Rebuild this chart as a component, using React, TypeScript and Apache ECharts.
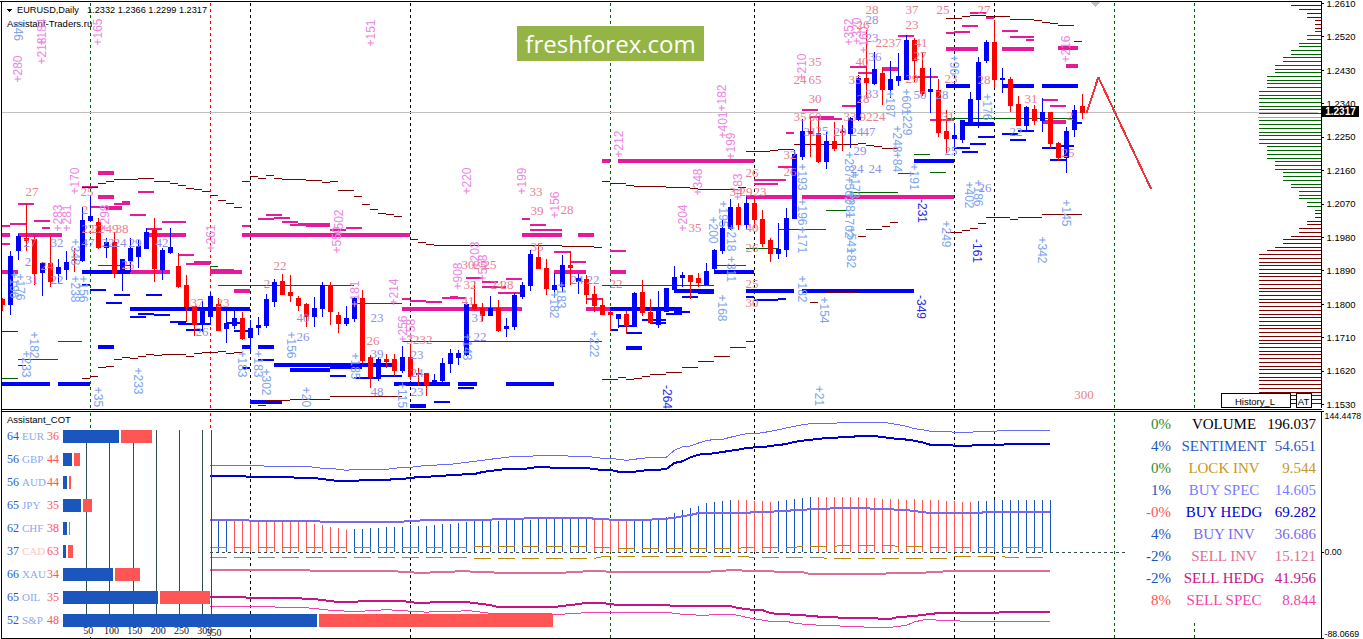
import React, { useEffect, useRef } from "react";
import * as echarts from "echarts";

// ---------- price data (prices in 1/10000) : open, close, low, high ----------
const candles: number[][] = [
[11811,11798,11781,11816],[11798,11928,11771,11943],[11943,11982,11919,11989],[11977,11970,11943,12072],[11973,11881,11851,11986],
[11884,11910,11823,11914],[11908,11860,11846,11982],[11881,11899,11857,11921],[11892,11913,11865,11943],[11919,11916,11887,11950],
[11917,12024,11913,12062],[12024,12037,12021,12091],[12020,11952,11948,12032],[11952,11966,11925,11977],[11966,11883,11871,11995],
[11884,11919,11835,11921],[11917,11950,11886,11978],[11928,11955,11897,11973],[11950,11993,11948,12006],[11997,11896,11860,12033],
[11892,11943,11865,11951],[11938,11953,11935,12006],[11901,11847,11843,11937],[11849,11793,11753,11878],[11793,11744,11715,11795],
[11751,11781,11726,11807],[11766,11820,11744,11833],[11798,11730,11728,11816],[11733,11748,11696,11780],[11742,11760,11733,11781],
[11762,11706,11703,11778],[11710,11735,11672,11757],[11736,11741,11717,11766],[11742,11811,11736,11826],[11808,11859,11793,11868],
[11862,11827,11825,11880],[11830,11823,11805,11877],[11814,11796,11780,11823],[11798,11766,11739,11802],[11766,11789,11739,11820],
[11789,11851,11766,11859],[11849,11780,11744,11859],[11768,11748,11722,11778],[11748,11762,11742,11796],[11760,11814,11751,11820],
[11814,11647,11641,11838],[11656,11605,11573,11663],[11600,11650,11593,11658],[11650,11645,11627,11665],[11650,11620,11605,11665],
[11620,11657,11614,11687],[11657,11605,11596,11693],[11614,11609,11578,11627],[11614,11584,11553,11615],[11587,11594,11578,11611],
[11594,11641,11590,11656],[11639,11668,11614,11678],[11656,11668,11636,11676],[11665,11798,11661,11804],[11798,11789,11781,11862],
[11789,11769,11755,11802],[11769,11789,11768,11822],[11787,11730,11724,11811],[11733,11739,11712,11762],[11739,11822,11730,11829],
[11820,11851,11813,11859],[11849,11934,11835,11946],[11926,11896,11895,11961],[11896,11841,11825,11921],[11838,11849,11816,11885],
[11847,11903,11833,11932],[11905,11898,11850,11943],[11862,11868,11826,11880],[11865,11825,11800,11878],[11827,11796,11778,11849],
[11796,11771,11771,11816],[11777,11771,11728,11780],[11762,11771,11736,11773],[11771,11741,11719,11780],[11739,11828,11739,11832],
[11832,11777,11768,11865],[11778,11751,11748,11813],[11746,11781,11736,11835],[11781,11841,11779,11843],[11840,11872,11829,11903],
[11871,11876,11847,11887],[11876,11862,11813,11876],[11870,11858,11847,11883],[11854,11889,11854,11910],[11895,11943,11890,11948],
[11943,12004,11935,12027],[12004,12060,12000,12082],[12060,12013,12000,12072],[12013,12070,12002,12089],[12070,12027,12004,12085],
[12029,11964,11955,12054],[11970,11935,11914,11977],[11935,11948,11921,12018],[11948,12031,11928,12058],[12031,12202,12029,12215],
[12197,12266,12188,12298],[12264,12260,12197,12305],[12260,12185,12179,12296],[12184,12239,12164,12264],[12239,12218,12213,12291],
[12266,12262,12213,12282],[12260,12300,12220,12305],[12296,12408,12294,12417],[12408,12396,12354,12538],[12393,12431,12390,12480],
[12422,12379,12336,12435],[12379,12404,12354,12455],[12401,12414,12386,12475],[12405,12509,12404,12525],[12511,12455,12399,12516],
[12435,12366,12359,12480],[12372,12379,12314,12435],[12374,12262,12251,12406],[12266,12245,12206,12323],[12246,12253,12211,12287],
[12242,12293,12235,12296],[12287,12352,12285,12372],[12352,12451,12275,12466],[12455,12505,12449,12511],[12505,12406,12381,12565],
[12404,12408,12369,12435],[12405,12336,12318,12412],[12338,12282,12280,12360],[12282,12330,12264,12334],[12325,12294,12282,12336],
[12294,12317,12264,12354],[12317,12233,12220,12317],[12233,12194,12185,12237],[12194,12266,12154,12278],[12271,12320,12251,12336],
[12332,12317,12299,12366],
];
const lastClose = 12317;
const priceTicks = [12610,12520,12430,12340,12250,12160,12070,11980,11890,11800,11710,11620,11530];
const forecast = [[135.55,12315],[137,12411],[143.6,12110]];
// bar-index positions of period separators, with their kind
const separators: [number, string][] = [[11,"g"],[26,"r"],[31,"k"],[51,"k"],[76,"g"],[94,"k"],[119,"k"],[124,"k"],[139,"g"],[149,"g"]];

// level segments: from bar, to bar, price (1/10000)
const magentaThick = [[0,1,11986],[2,7.5,11986],[18,23,11986],[30,51,11986],[0,2,11887],[16,21,11887],[26,30,11887],[12,14,12154],[12,14,12087],[29,31,11835],[50,65,11787],[65,70,11986],[72,74,11986],[69,73,11887],[76,78,11887],[73,76,11787],[75,76,12186],[77,94,12186],[93,99,12087],[100,119,12087],[118,122,12487],[125,129,12487],[132,134.5,12490],[133,134.5,12441],[130,133,12291],[110,112,12433]];
const magentaThin = [[2,4,12070],[10,12,12116],[14,16,12070],[15,16,12076],[17,19,12103],[11,15,12062],[13,15,12056],[16,18,12040],[4,6,12024],[20,23,12020],[1,3,12016],[0,1,12009],[5,6,12006],[18,20,12002],[0,1,11961],[22,24,11932],[24,26,11914],[23,26,11909],[26,29,11892],[33,35,12040],[32,34,12029],[34,36,12031],[35,37,12021],[37,41,12016],[38,41,12010],[30,31,12011],[36,38,12013],[43,45,12005],[41,43,12000],[50,51,11814],[51,53,11808],[53,55,11806],[55,58,11817],[56,57,11820],[58,60,11870],[60,62,11860],[60,63,11846],[62,65,11830],[63,65,11868],[65,66,12029],[66,68,12013],[66,70,12000],[69,71,11940],[71,73,11913],[73,75,11814],[76,78,11944],[94,98,12134],[94,97,12123],[97,99,12170],[98,99,12262],[100,102,12323],[101,104,12305],[102,105,12298],[105,107,12334],[106,108,12439],[107,109,12423],[112,114,12523],[114,117,12412],[116,119,12296],[118,119,12530],[119,121,12532],[120,122,12550],[121,123,12583],[123,124,12571],[125,127,12536],[126,129,12520],[128,129,12511],[130,132,12350],[131,133,12334]];
const blueThick = [[10,16,11887],[16,31,11787],[12,14,11684],[30,31,11684],[32,34,11684],[0,6,11584],[7,11,11584],[31,35,11537],[34,49,11636],[36,41,11623],[49,56,11585],[57,59.3,11585],[63,69,11585],[51,53,11526],[76,85,11787],[78,80,11683],[84,89,11835],[89,94,11886],[93,99,11835],[100,114,11835],[114,119,12185],[118,121,12387],[125,129,12387],[130,134.5,12387],[120,124,12285]];
const blueThin = [[10,11,11852],[11,13,11838],[14,16,11825],[18,20,11825],[13,15,11804],[17,19,11773],[19,21,11771],[16,18,11765],[21,23,11753],[22,26,11746],[23,25,11730],[28,30,11748],[29,31,11728],[30,31,11629],[32,34,11650],[41,43,11606],[41,45,11627],[44,47,11601],[47,50,11605],[57,59,11574],[54,56,11537],[77,79,11742],[78,80,11723],[76,77,11730],[80,83,11758],[81,83,11750],[83,85,11773],[84,86,11778],[87,89,11829],[85,87,11820],[93,94,11820],[94,97,11811],[97,98,11814],[119,121,12220],[121,123,12231],[120,122,12210],[122,124,12250],[125,127,12258],[127,129,12266],[126,128,12242],[130,132,12220],[132,134,12227],[131,133,12188],[134,135,12288]];
const greenLevels = [[12,16,11903],[10,11,11851],[27,44,11851],[44,50,11802],[50,75,11700],[75,89,11851],[2,7,11652],[7,10,11700],[0,2,11600],[26,27,11902],[89,93,11903],[93,97,11950],[97,103,12002],[103,106,12051],[106,112,12101],[112,114,12152],[114,116,12202],[116,118,12153],[118,134,12300]];
const darkRedLevels = [[10,12,12115],[12,13,12125],[13,14,12130],[14,17,12136],[17,19,12139],[19,21,12131],[21,22,12125],[22,23,12120],[23,24,12112],[24,25,12109],[25,26,12104],[26,27,12093],[27,28,12080],[28,29,12070],[29,30,12061],[30,31,12131],[31,32,12144],[32,33,12139],[33,34,12147],[34,35,12139],[35,38,12136],[38,40,12133],[40,41,12128],[41,42,12131],[42,44,12106],[44,45,12090],[45,46,12067],[46,47,12055],[47,48,12045],[48,49,12040],[49,50,12035],[51,52,11975],[52,53,11965],[53,54,11961],[54,67,11959],[67,70,11958],[70,71,11956],[71,74,11955],[74,75,11953],[75,76,12131],[76,78,12125],[78,79,12120],[79,83,12117],[83,86,12114],[86,87,12110],[87,92,12109],[92,93,12114],[93,95,12212],[95,96,12210],[96,97,12213],[97,99,12216],[99,105,12230],[105,107,12229],[107,108,12233],[108,109,12226],[109,110,12224],[110,112,12220],[107,108,11983],[108,110,12001],[110,111,12010],[111,112,12020],[118,120,11993],[120,121,11999],[121,122,12004],[122,123,12018],[123,126,12034],[126,127,12028],[127,130,12034],[130,135,12040],[118,120,12570],[120,121,12574],[121,123,12577],[123,126,12575],[126,129,12567],[129,130,12564],[130,131,12559],[131,132,12555],[132,134,12551],[134,135,12508],[0,2,11727],[2,3,11634],[10,11,11600],[11,12,11606],[12,13,11629],[13,14,11633],[14,15,11651],[15,16,11656],[16,17,11654],[17,18,11660],[18,19,11665],[19,20,11662],[20,23,11665],[23,24,11660],[24,25,11666],[25,27,11670],[27,28,11671],[28,29,11666],[29,30,11670],[31,32,11537],[32,33,11526],[33,36,11539],[36,37,11544],[37,39,11542],[39,41,11544],[41,50,11550],[75,77,11598],[77,78,11601],[78,79,11598],[79,80,11600],[80,81,11606],[81,83,11609],[83,85,11616],[85,87,11628],[87,89,11644],[89,91,11660],[91,93,11682],[93,94,11698],[101,102,11805],[103,107,11831]];

// volume profile on the right: [bar length in steps, number of rows], from 1.2603 down in steps of 0.0010
const profileRuns = [[4,1],[3,1],[2,2],[1,3],[1,1],[2,2],[3,2],[4,2],[5,2],[6,3],[7,4],[8,15],[7,4],[6,3],[5,3],[4,2],[3,3],[2,2],[1,1],[1,2],[2,2],[3,2],[4,1],[5,2],[6,1],[7,1],[8,41]];

// ---------- COT pane, runs of [value, bars] starting at bar 26 ----------
const volumeRuns = [[88.8,7],[87.8,6],[86.8,1],[85.7,2],[84.7,1],[83.7,1],[84.7,5],[85.7,1],[86.8,2],[87.8,1],[88.8,2],[89.8,2],[90.9,1],[91.9,1],[92.9,1],[93.9,1],[95,1],[96,1],[97,1],[98,3],[99,4],[98,3],[97,1],[96,2],[95,1],[93.9,1],[95,1],[96,1],[97,3],[104.2,1],[107.6,1],[108.6,1],[111.6,1],[114,1],[115.4,2],[117.5,1],[119.5,1],[121.2,2],[122.2,1],[123.6,1],[125.3,1],[127,1],[128.8,1],[130.4,1],[131.4,1],[131.8,3],[132.9,6],[131.8,1],[130.4,1],[128.8,1],[126.3,1],[125.3,1],[123.6,3],[122.6,3],[123.6,3],[124.7,7]];
const sentimentRuns = [[77.8,5],[76.8,6],[75.8,3],[74.8,1],[73.7,1],[72.7,3],[73.7,4],[74.8,2],[75.8,1],[76.8,2],[77.8,2],[78.9,2],[79.9,2],[81.9,1],[83,1],[84,1],[85,3],[86,1],[87.1,2],[86,5],[85,1],[84,2],[82.3,3],[83.3,1],[84.3,2],[85,1],[91.2,1],[92.9,1],[97,1],[99.7,1],[100.4,1],[101.1,1],[102.4,1],[103.8,1],[104.8,1],[106.5,1],[107.2,2],[108.6,1],[109.6,1],[110.6,1],[112.7,1],[114,1],[115,1],[115.7,1],[116.8,2],[117.8,2],[118.8,3],[117.8,1],[116.8,1],[115.7,1],[115.2,1],[114,1],[112.4,1],[109.9,3],[108.9,3],[109.9,4],[110.9,6]];
const buyInvRuns = [[33.1,5],[32.1,9],[31,11],[32.1,2],[33.1,9],[34.1,4],[35.1,8],[34.1,2],[33.1,6],[34.1,2],[35.1,1],[36.6,1],[37.9,1],[39.9,7],[41,3],[42,2],[43,2],[44,3],[45.1,5],[44,3],[43,2],[42,1],[41,1],[39.9,7],[41,9]];
const sellInvRuns = [[-18.4,13],[-19.5,11],[-20.5,2],[-21.5,2],[-20.5,3],[-19.5,2],[-20.5,3],[-21.5,9],[-20.5,2],[-19.5,3],[-20.5,13],[-19.5,2],[-18.4,2],[-19.5,4],[-20.5,4],[-22.5,10],[-21.5,5],[-20.5,2],[-19.5,14]];
const sellHedgRuns = [[-46.1,5],[-47.1,7],[-48.1,2],[-49.2,1],[-50.2,1],[-51.2,3],[-50.2,6],[-51.2,1],[-52.2,2],[-51.2,5],[-52.2,1],[-53.3,1],[-54.3,1],[-56.3,8],[-55.3,1],[-54.3,1],[-53.3,1],[-52.2,3],[-53.3,1],[-54.3,7],[-55.3,8],[-57.4,1],[-58.4,1],[-59.4,2],[-62.5,1],[-63.5,2],[-64.5,2],[-65.6,1],[-66.1,1],[-66.6,2],[-67.6,5],[-68.6,2],[-66.6,1],[-66.1,1],[-65.6,1],[-64.5,1],[-63.5,1],[-62.5,8],[-61.5,7]];
const sellSpecRuns = [[-55.6,7],[-56.3,2],[-57.1,4],[-57.9,1],[-58.7,1],[-59.7,2],[-60.7,3],[-59.7,2],[-58.7,1],[-59.7,2],[-60.7,2],[-61.8,1],[-60.7,4],[-59.7,1],[-60.7,1],[-61.8,1],[-62.8,8],[-63.8,2],[-62.8,2],[-61.8,11],[-62.8,1],[-63.8,2],[-64.8,2],[-63.8,3],[-64.8,1],[-66.9,1],[-68.3,1],[-69.7,1],[-71,3],[-72.7,1],[-73.8,2],[-75.1,3],[-76.1,3],[-77.1,4],[-76.1,1],[-75.1,1],[-71.7,1],[-69.7,1],[-68.6,1],[-70,3],[-71,12]];
const lockUpperRuns = [[4.8,33],[5.8,15],[4.8,3],[3.8,16],[4.8,7],[5.8,5],[6.8,7],[5.8,4],[4.5,8],[4.8,8]];
const lockLowerRuns = [[-5.4,33],[-6.4,16],[-4.9,19],[-5.6,9],[-6.4,16],[-4.9,7],[-5.6,6]];
// histogram, runs from bar 27
const histogramRuns = [[32,2],[31.4,3],[30.7,6],[30.4,1],[28.7,1],[27.7,1],[25.9,1],[24.6,1],[22.5,1],[23.6,2],[24.6,2],[25.6,3],[27.7,1],[26.6,2],[27.7,1],[28.7,2],[29.7,1],[30.7,1],[31.8,2],[32.8,1],[31.8,1],[32.8,4],[33.8,7],[32.8,2],[32.3,2],[32.5,1],[31.4,2],[33.1,1],[33.8,1],[35.5,1],[39.9,1],[43.3,1],[45.1,1],[46.8,1],[50.2,1],[51.2,1],[52.2,1],[53.3,3],[52.2,2],[51.2,1],[52.2,1],[53.3,1],[54.3,1],[55.3,1],[56.3,7],[55.3,2],[54.3,3],[53.3,1],[54.3,1],[53.3,3],[52.2,2],[51.2,2],[52.2,2],[53.3,8]];
const histogramFallingBars = [[29,43],[74,78],[92,96],[102,121]];
const zeroLine = [[26,0],[140.6,0]];

// COT table
const cotNames = ["EUR","GBP","AUD","JPY","CHF","CAD","XAU","OIL","S&P"];
const cotLongPct = [64,56,56,65,62,37,66,65,52];
const cotShortPct = [36,44,44,35,38,63,34,35,48];
const cotLongSize = [120,19,8,39,8,6,108,204,545];
const cotShortSize = [67,13,5,20,3,11,54,108,503];
const cotAxisTicks = [50,100,150,200,250,300];
const cotEdgeTick = 318.5;
const cotEdgeLabel = "350";

// summary table
const summaryChange = ["0%","4%","0%","1%","-0%","4%","-2%","-2%","8%"];
const summaryNames = ["VOLUME","SENTIMENT","LOCK INV","BUY SPEC","BUY HEDG","BUY INV","SELL INV","SELL HEDG","SELL SPEC"];
const summaryValues = ["196.037","54.651","9.544","14.605","69.282","36.686","15.121","41.956","8.844"];

// chart annotations (text, left, top)
const pinkUpLabels: [string,number,number][] = [["+280",18,69],["+218",42,51],["+184",42,32],["+165",98,32],["+170",75,181],["+283",58,218],["+281",67,218],["+298",105,218],["+261",211,238],["+502",339,223],["+550",337,240],["+151",371,33],["+220",467,181],["+199",522,181],["+156",555,205],["+212",619,144],["+182",722,98],["+401",723,125],["+199",731,146],["+348",698,182],["+204",683,218],["+183",738,187],["+181",355,294],["+256",403,329],["+58",411,329],["+214",394,292],["+908",458,276],["+203",475,255],["+568",483,268],["+352",849,32],["+320",857,31],["+210",802,67],["+216",1066,49],["+160",864,40]];
const blueDownLabels: [string,number,number][] = [["946",18,31],["+182",34,345],["+233",26,364],["+233",138,381],["+35",98,397],["+183",242,364],["+183",258,364],["+302",266,382],["+156",291,345],["+20",306,397],["+238",75,289],["+348",75,252],["+156",83,289],["+176",20,287],["+196",14,285],["+185",355,366],["+115",402,395],["+143",467,347],["+182",554,305],["+183",561,295],["+222",594,344],["+249",946,234],["+402",969,195],["+186",978,193],["+191",914,177],["+196",802,212],["+171",802,240],["+193",802,177],["+182",802,289],["+154",824,310],["+21",819,396],["+218",731,238],["+195",723,214],["+311",731,269],["+168",722,308],["+200",713,230],["+287",849,165],["+173",855,185],["+562",849,190],["+981",850,205],["+702",849,225],["+541",851,240],["+82",851,258],["+187",890,104],["+601",906,102],["+229",907,122],["+248",897,139],["+84",897,162],["+176",987,107],["+96",954,65],["+145",1066,213],["+342",1042,250]];
const darkDownLabels: [string,number,number][] = [["-264",667,397],["-349",921,307],["-231",922,211],["-161",977,251]];
const redCounts: [string,number,number][] = [["27",32,191],["25",87,191],["2",85,209],["22",88,228],["22",98,228],["49",112,228],["38",122,228],["24",47,265],["25",128,264],["37",197,302],["23",223,302],["22",280,265],["2",267,283],["26",373,340],["32",413,339],["32",426,339],["30",468,264],["25",480,264],["25",490,264],["32",470,284],["24",497,284],["28",507,284],["39",537,210],["28",567,209],["33",536,191],["35",537,246],["22",616,283],["41",468,300],["35",695,227],["40",752,227],["26",752,247],["26",752,172],["25",752,283],["30",752,302],["34",736,191],["29",746,191],["23",760,191],["26",790,171],["32",790,154],["28",872,9],["26",863,24],["37",912,9],["23",912,24],["25",943,9],["27",984,9],["22",882,42],["37",895,42],["41",921,42],["27",920,55],["35",815,61],["24",800,79],["65",815,79],["40",862,61],["35",855,79],["30",815,98],["35",800,116],["60",815,116],["33",850,116],["92",866,116],["24",879,116],["28",863,98],["29",912,78],["28",984,79],["23",951,78],["31",1031,98],["31",948,116],["25",1068,152],["2",1070,115],["300",1084,394]];
const purpleCounts: [string,number,number][] = [["27",30,242],["32",57,242],["2",28,261],["31",32,279],["22",57,279],["47",88,242],["22",108,242],["24",120,242],["29",135,242],["42",162,242],["26",202,331],["40",303,317],["26",303,336],["23",377,317],["39",377,353],["31",478,317],["22",480,336],["24",417,372],["23",417,391],["23",417,354],["48",377,391],["24",577,279],["22",593,279],["28",872,19],["23",872,37],["36",875,56],["33",872,93],["25",822,130],["29",840,131],["31",810,131],["50",920,94],["28",942,94],["25",951,150],["22",1016,131],["24",857,131],["47",869,131],["29",860,150],["24",857,168],["24",875,168],["26",985,187]];

const FONT_SANS = '"Liberation Sans", Arial, sans-serif';
const FONT_SERIF = '"Liberation Serif", "Times New Roman", serif';
const BARS = 165;
const BLUE = "#0000ff", RED = "#ff0000", MAGENTA = "#e6199a", DARKRED = "#7a0000", GREEN = "#006400", SLATE = "#2f4f4f";
const COT_BLUE = "#1a56bd", COT_RED = "#ff5555";
const SEP_COLORS: any = { g: "#006400", r: "#ff0000", k: "#000000" };

const expand = (runs: number[][]) => {
  const out: number[] = [];
  runs.forEach(([v, n]) => { for (let k = 0; k < n; k++) out.push(v); });
  return out;
};
const fromBar = (start: number, values: number[]) => values.map((v, k) => [start + k, v]);

function segmentSeries(name: string, rows: number[][], color: string, width: number, z: number) {
  return {
    name, type: "custom", xAxisIndex: 1, yAxisIndex: 0, z, clip: true, silent: true,
    encode: { x: [0, 1], y: 2 },
    data: rows.map(([a, b, p]) => [a, b, p / 10000]),
    renderItem: (_p: any, api: any) => {
      const s = api.coord([api.value(0), api.value(2)]);
      const e = api.coord([api.value(1), api.value(2)]);
      return { type: "line", shape: { x1: s[0], y1: s[1], x2: e[0], y2: e[1] }, style: { stroke: color, lineWidth: width, fill: null } };
    },
  };
}

function paneLine(name: string, runs: number[][], color: string, width: number, dash?: any) {
  return {
    name, type: "line", xAxisIndex: 2, yAxisIndex: 1, z: 2, symbol: "none", silent: true,
    data: fromBar(26, expand(runs)),
    lineStyle: { color, width, type: dash || "solid" },
  };
}

function sepLines() {
  return {
    symbol: "none", silent: true, z: 0, precision: 4,
    label: { show: false },
    data: separators.map(([x, c]) => ({ xAxis: x, lineStyle: { color: SEP_COLORS[c], type: [3, 3], width: 1 } })),
  };
}

function buildOption() {
  const txt = (t: string, x: number, y: number, fill: string, font: string, extra: any = {}) => ({
    type: "text", x, y, z: 30, silent: true, rotation: extra.rotation || 0,
    style: { text: t, fill, font, align: extra.align || "center", verticalAlign: "middle" },
  });
  const seg = (x1: number, y1: number, x2: number, y2: number, stroke = "#000", w = 1) => ({
    type: "line", z: 40, silent: true, shape: { x1, y1, x2, y2 }, style: { stroke, lineWidth: w },
  });

  const summaryChangeColors = ["#2e8b2e","#1a56bd","#2e8b2e","#1a56bd","#ff5555","#1a56bd","#1a56bd","#1a56bd","#ff5555"];
  const summaryColors = ["#000000","#2a5cc8","#c8961e","#7b7bff","#0000cd","#7b68ee","#db7093","#c71585","#ee44aa"];
  const summaryY = [423.7,446,468,490,512,534,556,578,600];
  const cotY = [436.3,459.3,482.3,505.3,528.3,551.3,574.3,597.3,620.3];
  const cotNameColor = cotNames.map((n) => (n === "CAD" ? "#ffc4c4" : "#8ea8f0"));

  const elements: any[] = [
    { type: "rect", z: 1, silent: true, shape: { x: 3, y: 429, width: 208.5, height: 208 }, style: { fill: "#fff" } },
    { type: "rect", z: 1, silent: true, shape: { x: 1140, y: 412, width: 180, height: 209 }, style: { fill: "#fff" } },
    { type: "rect", z: 39, silent: true, shape: { x: 0, y: 0, width: 1.5, height: 639 }, style: { fill: "#fff" } },
    seg(0, 1.5, 1322, 1.5), seg(1.5, 1, 1.5, 639), seg(1.5, 409, 1322, 409), seg(1.5, 411, 1322, 411), seg(1.5, 638, 1322, 638),
    { type: "polygon", z: 40, silent: true, shape: { points: [[6, 9], [12, 9], [9, 12]] }, style: { fill: "#000" } },
    { type: "polygon", z: 30, silent: true, shape: { points: [[1091, 2], [1100, 2], [1095.5, 7]] }, style: { fill: "#c0c0c0" } },
    txt("EURUSD,Daily", 17, 10, "#000", `9.2px ${FONT_SANS}`, { align: "left" }),
    txt("1.2332 1.2366 1.2299 1.2317", 87, 10, "#000", `9.2px ${FONT_SANS}`, { align: "left" }),
    txt("Assistant-Traders.ru", 7, 23, "#000", `9.5px ${FONT_SANS}`, { align: "left" }),
    txt("Assistant_COT", 7, 419.5, "#000", `9.5px ${FONT_SANS}`, { align: "left" }),
    { type: "rect", z: 30, silent: true, shape: { x: 517, y: 26, width: 187, height: 35 }, style: { fill: "#94b545" } },
    txt("freshforex.com", 610.5, 43.5, "#ffffff", `24px "Open Sans", ${FONT_SANS}`),
    { type: "rect", z: 30, silent: true, shape: { x: 1322, y: 106, width: 37, height: 11 }, style: { fill: "#000" } },
    txt("1.2317", 1340.5, 111.5, "#fff", `bold 10px ${FONT_SANS}`),
    { type: "rect", z: 30, silent: true, shape: { x: 1221.5, y: 393.5, width: 69, height: 14 }, style: { fill: "#fff", stroke: "#000", lineWidth: 1 } },
    txt("History_L", 1255, 401, "#000", `9.5px ${FONT_SANS}`),
    { type: "rect", z: 30, silent: true, shape: { x: 1296, y: 393.5, width: 15, height: 14 }, style: { fill: "#fff", stroke: "#000", lineWidth: 1 } },
    txt("AT", 1303.5, 401, "#000", `9.5px ${FONT_SANS}`),
    txt(cotEdgeLabel, 214, 632, "#111", `10px ${FONT_SERIF}`),
  ];

  pinkUpLabels.forEach(([t, x, y]) => elements.push(txt(t, x, y, "#ea86e2", `12px ${FONT_SANS}`, { rotation: Math.PI / 2 })));
  blueDownLabels.forEach(([t, x, y]) => elements.push(txt(t, x, y, "#7da5ec", `12px ${FONT_SANS}`, { rotation: -Math.PI / 2 })));
  darkDownLabels.forEach(([t, x, y]) => elements.push(txt(t, x, y, "#2a2ae6", `12px ${FONT_SANS}`, { rotation: -Math.PI / 2 })));
  redCounts.forEach(([t, x, y]) => elements.push(txt(t, x, y, "#e9808f", `13px ${FONT_SERIF}`)));
  purpleCounts.forEach(([t, x, y]) => elements.push(txt(t, x, y, "#8f8fe8", `13px ${FONT_SERIF}`)));

  cotNames.forEach((n, i) => {
    elements.push(txt(String(cotLongPct[i]), 7, cotY[i], "#2a5cc8", `12px ${FONT_SERIF}`, { align: "left" }));
    elements.push(txt(n, 22, cotY[i], cotNameColor[i], `11px ${FONT_SERIF}`, { align: "left" }));
    elements.push(txt(String(cotShortPct[i]), 47, cotY[i], "#ff5555", `12px ${FONT_SERIF}`, { align: "left" }));
  });
  summaryNames.forEach((n, i) => {
    elements.push(txt(summaryChange[i], 1171, summaryY[i], summaryChangeColors[i], `15px ${FONT_SERIF}`, { align: "right" }));
    elements.push(txt(n, 1224, summaryY[i], summaryColors[i], `15px ${FONT_SERIF}`));
    elements.push(txt(summaryValues[i], 1316, summaryY[i], summaryColors[i], `15px ${FONT_SERIF}`, { align: "right" }));
  });

  const profile = expand(profileRuns);
  const profileData = profile.map((n, k) => {
    if (k === 30) return { value: n + 0.13, itemStyle: { color: "#daa520", borderColor: "#daa520", borderWidth: 1 } };
    return { value: n, itemStyle: { color: k >= 7 && k <= 55 ? GREEN : DARKRED } };
  });
  const histValues = fromBar(27, expand(histogramRuns)).map(([i, v]) => ({
    value: [i, v],
    itemStyle: { color: histogramFallingBars.some(([a, b]) => i >= a && i <= b) ? COT_RED : COT_BLUE },
  }));

  return {
    animation: false,
    backgroundColor: "#fff",
    textStyle: { fontFamily: "Liberation Sans" },
    graphic: { elements },
    grid: [
      { left: -1.7, top: 1.5, width: 8 * BARS, height: 406.5, outerBoundsMode: "none" },
      { left: -1.7, top: 411, width: 8 * BARS, height: 227, outerBoundsMode: "none" },
      { left: 1257.3, top: 4.04, width: 64, height: 401, outerBoundsMode: "none" },
      { left: 63, top: 424.8, width: 490, height: 207, outerBoundsMode: "none" },
      { left: 63, top: 430, width: 490, height: 195, outerBoundsMode: "none" },
    ],
    xAxis: [
      { type: "category", gridIndex: 0, show: false, data: Array.from({ length: BARS }, (_, i) => String(i)) },
      { type: "value", gridIndex: 0, show: false, min: -0.5, max: BARS - 0.5 },
      { type: "value", gridIndex: 1, show: false, min: -0.5, max: BARS - 0.5 },
      { type: "value", gridIndex: 2, show: false, min: 0.2, max: 8.2, inverse: true },
      {
        type: "value", gridIndex: 3, min: 0, max: 1052, z: 8,
        axisLine: { show: false }, axisTick: { show: false }, splitLine: { show: false },
        axisLabel: {
          customValues: cotAxisTicks, margin: -6, color: "#111", fontFamily: "Liberation Serif", fontSize: 10, padding: [0, 0, 0, 4],
          formatter: (v: number) => String(v),
        },
      },
      { type: "value", gridIndex: 4, show: false, min: 0, max: 1052 },
    ],
    yAxis: [
      {
        type: "value", gridIndex: 0, position: "right", offset: 2.7, min: 1.15201, max: 1.26148, scale: true,
        axisLine: { show: true, onZero: false, lineStyle: { color: "#000" } },
        axisTick: { show: true, length: 3, customValues: priceTicks.map((p) => p / 10000), lineStyle: { color: "#000" } },
        splitLine: { show: false },
        axisLabel: {
          customValues: priceTicks.map((p) => p / 10000), color: "#000", fontSize: 9.5, margin: 5.5, fontFamily: "Liberation Sans",
          formatter: (v: number) => v.toFixed(4),
        },
      },
      {
        type: "value", gridIndex: 1, position: "right", offset: 2.7, min: -88.0669, max: 144.4478, scale: true,
        axisLine: { show: true, onZero: false, lineStyle: { color: "#000" } },
        axisTick: { show: true, length: 3, customValues: [-88.0669, 0, 144.4478], lineStyle: { color: "#000" } },
        splitLine: { show: false },
        axisLabel: {
          customValues: [-88.0669, 0, 144.4478], color: "#000", fontSize: 8.8, margin: 3.5, fontFamily: "Liberation Sans",
          verticalAlignMinLabel: "bottom", verticalAlignMaxLabel: "top",
          formatter: (v: number) => (v === 0 ? "0.00" : v.toFixed(4)),
        },
      },
      { type: "category", gridIndex: 2, show: false, inverse: true, data: profile.map((_, k) => ((12603 - k * 10) / 10000).toFixed(4)) },
      { type: "category", gridIndex: 3, show: false, inverse: true, data: cotNames },
      { type: "value", gridIndex: 4, show: false, min: 0, max: 1 },
    ],
    series: [
      {
        name: "separators", type: "line", xAxisIndex: 1, yAxisIndex: 0, z: 0, symbol: "none", silent: true,
        data: [[0, lastClose / 10000]], lineStyle: { width: 0 },
        markLine: {
          ...sepLines(),
          data: [
            ...separators.map(([x, c]) => ({ xAxis: x, lineStyle: { color: SEP_COLORS[c], type: [3, 3], width: 1 } })),
            { yAxis: lastClose / 10000, lineStyle: { color: "#c0c0c0", type: "solid", width: 1 } },
          ],
        },
      },
      {
        name: "separators pane", type: "line", xAxisIndex: 2, yAxisIndex: 1, z: 0, symbol: "none", silent: true,
        data: [[0, 0]], lineStyle: { width: 0 },
        markLine: sepLines(),
      },
      segmentSeries("Resistance", magentaThick, MAGENTA, 4, 2),
      segmentSeries("Resistance minor", magentaThin, MAGENTA, 2, 2),
      segmentSeries("Support", blueThick, BLUE, 4, 2),
      segmentSeries("Support minor", blueThin, BLUE, 2, 2),
      segmentSeries("Pivot", greenLevels, GREEN, 1, 2),
      segmentSeries("Channel", darkRedLevels, DARKRED, 1, 2),
      {
        name: "EURUSD", type: "candlestick", xAxisIndex: 0, yAxisIndex: 0, z: 3, barWidth: 4, silent: true,
        data: candles.map((c) => c.map((p) => p / 10000)),
        itemStyle: { color: BLUE, color0: RED, borderColor: BLUE, borderColor0: RED, borderWidth: 1 },
      },
      {
        name: "Forecast", type: "line", xAxisIndex: 1, yAxisIndex: 0, z: 4, symbol: "none", silent: true,
        data: forecast.map(([x, p]) => [x, p / 10000]),
        lineStyle: { color: "#f0323c", width: 2 },
      },
      {
        name: "Profile", type: "bar", xAxisIndex: 3, yAxisIndex: 2, z: 2, barWidth: 1, silent: true,
        data: profileData,
      },
      {
        name: "Zero", type: "line", xAxisIndex: 2, yAxisIndex: 1, z: 2, symbol: "none", silent: true,
        data: zeroLine, lineStyle: { color: SLATE, width: 1, type: [3, 3] },
      },
      {
        name: "Net", type: "bar", xAxisIndex: 2, yAxisIndex: 1, z: 2, barWidth: 1, silent: true,
        data: histValues,
      },
      paneLine("Lock upper", lockUpperRuns, "#b8860b", 1, [17, 7]),
      paneLine("Lock lower", lockLowerRuns, "#b8860b", 1, [17, 7]),
      paneLine("VOLUME", volumeRuns, "#6a6af5", 1),
      paneLine("SENTIMENT", sentimentRuns, "#0000cd", 2),
      paneLine("BUY INV", buyInvRuns, "#7b68ee", 2),
      paneLine("SELL INV", sellInvRuns, "#db7093", 2),
      paneLine("SELL HEDG", sellHedgRuns, "#c71585", 2),
      paneLine("SELL SPEC", sellSpecRuns, "#ee44aa", 1),
      {
        name: "COT ticks", type: "line", xAxisIndex: 5, yAxisIndex: 4, z: 5, symbol: "none", silent: true,
        data: [[0, 0]], lineStyle: { width: 0 },
        markLine: {
          symbol: "none", silent: true, z: 5, label: { show: false }, precision: 2,
          data: [...cotAxisTicks, cotEdgeTick].map((v) => ({ xAxis: v, lineStyle: { color: SLATE, type: "solid", width: 1 } })),
        },
      },
      {
        name: "COT long", type: "bar", xAxisIndex: 4, yAxisIndex: 3, stack: "cot", z: 6, barWidth: 13, silent: true,
        data: cotLongSize, itemStyle: { color: COT_BLUE },
      },
      {
        name: "COT gap", type: "bar", xAxisIndex: 4, yAxisIndex: 3, stack: "cot", z: 6, barWidth: 13, silent: true,
        data: cotNames.map(() => 4.3), itemStyle: { color: "transparent" },
      },
      {
        name: "COT short", type: "bar", xAxisIndex: 4, yAxisIndex: 3, stack: "cot", z: 6, barWidth: 13, silent: true,
        data: cotShortSize, itemStyle: { color: COT_RED },
      },
    ],
  };
}

export default function App() {
  const ref = useRef<HTMLDivElement>(null);
  useEffect(() => {
    document.body.style.margin = "0";
    const chart = echarts.init(ref.current!, null, { renderer: "svg" });
    chart.setOption(buildOption() as any);
    return () => chart.dispose();
  }, []);
  return (
    <>
      <style>{"svg path{shape-rendering:crispEdges}"}</style>
      <div ref={ref} style={{ width: 1363, height: 639 }} />
    </>
  );
}
